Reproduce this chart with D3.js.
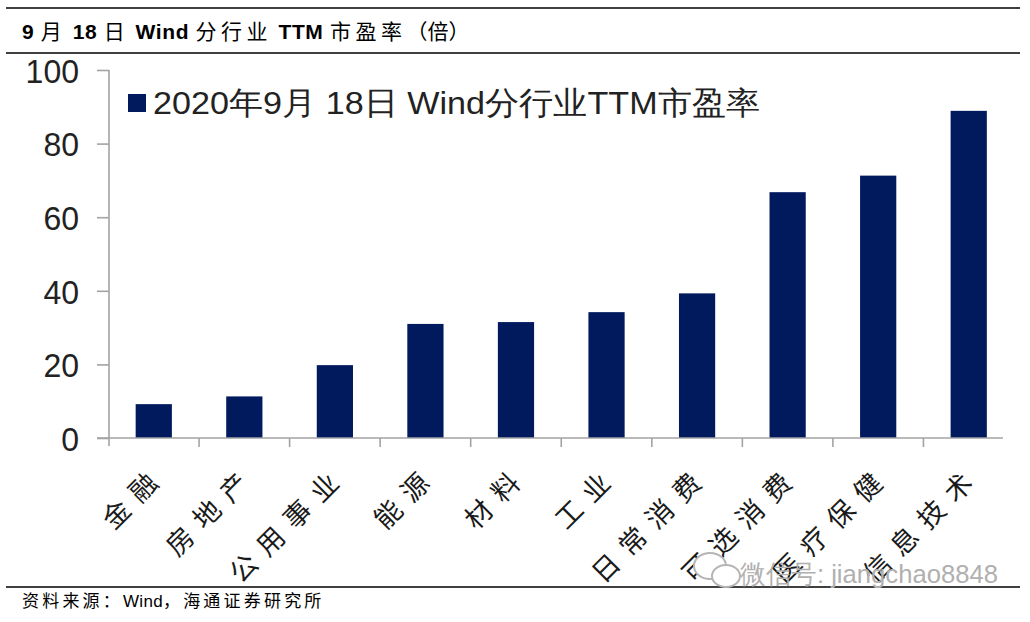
<!DOCTYPE html>
<html><head><meta charset="utf-8">
<script src="https://cdn.jsdelivr.net/npm/d3@7"></script>
<style>
html,body{margin:0;padding:0;background:#fff;}
svg{display:block;}
</style></head>
<body>
<svg id="c" width="1030" height="622"></svg>
<script>
const categories = ["金融","房地产","公用事业","能源","材料","工业","日常消费","可选消费","医疗保健","信息技术"];
const peValues = [9.2, 11.3, 19.8, 31.0, 31.5, 34.2, 39.3, 66.8, 71.3, 88.9];
const yTicks = [0, 20, 40, 60, 80, 100];
const titleParts = [["9 ", true], ["月", false], [" 18 ", true], ["日", false], [" Wind ", true], ["分行业", false], [" TTM ", true], ["市盈率", false], ["（倍）", false]];
const legendText = "2020年9月 18日 Wind分行业TTM市盈率";
const sourceParts = [["资料来源：", true], ["Wind", false], ["，海通证券研究所", true]];
const watermarkText = "微信号: jiangchao8848";

const svg = d3.select("#c");
const navy = "#011a5e";
const axisGrey = "#a3a3a3";
const cjk = "'Noto Sans CJK SC', sans-serif";
const latin = "'Liberation Sans', Arial, sans-serif";

// frame lines
[8, 53, 587].forEach(y => {
  svg.append("line").attr("x1", 6).attr("x2", 1020).attr("y1", y).attr("y2", y)
    .attr("stroke", "#000").attr("stroke-width", 1.6);
});

// title
const t = svg.append("text").attr("x", 22).attr("y", 39)
  .attr("font-size", 21).attr("fill", "#000");
titleParts.forEach(([s, b], i) => {
  t.append("tspan").text(s)
    .attr("font-family", b ? latin : cjk)
    .attr("font-weight", b ? "bold" : "normal")
    .attr("letter-spacing", b ? 0.6 : (i === titleParts.length - 1 ? 0 : 4.5));
});

// scales
const x = d3.scaleBand().domain(categories).range([108.5, 1014]).paddingInner(0.6).paddingOuter(0.3);
const y = d3.scaleLinear().domain([0, 100]).range([438, 70]);

// bars
svg.append("g").selectAll("rect").data(peValues).join("rect")
  .attr("x", (d, i) => x(categories[i]))
  .attr("y", d => y(d))
  .attr("width", x.bandwidth())
  .attr("height", d => y(0) - y(d))
  .attr("fill", navy);

// y axis
const yAxis = svg.append("g").attr("transform", "translate(109,0)")
  .call(d3.axisLeft(y).tickValues(yTicks).tickSize(12).tickSizeOuter(0).tickPadding(18));
yAxis.select(".domain").attr("stroke", axisGrey).attr("stroke-width", 1.6).attr("d", "M0,70V446");
yAxis.selectAll(".tick line").attr("stroke", axisGrey).attr("stroke-width", 1.6);
yAxis.selectAll(".tick text")
  .attr("font-family", latin).attr("font-size", 34).attr("fill", "#222")
  .attr("dy", "0.36em")
  .attr("textLength", d => String(d).length * 17.8)
  .attr("lengthAdjust", "spacingAndGlyphs");

// x axis line and ticks
const step = x.step();
svg.append("line").attr("x1", 97).attr("x2", 1003).attr("y1", y(0)).attr("y2", y(0))
  .attr("stroke", axisGrey).attr("stroke-width", 1.6);
svg.append("g").selectAll("line").data(categories.slice(1)).join("line")
  .attr("x1", d => x(d) - x.paddingInner() * step / 2)
  .attr("x2", d => x(d) - x.paddingInner() * step / 2)
  .attr("y1", y(0)).attr("y2", y(0) + 9)
  .attr("stroke", axisGrey).attr("stroke-width", 1.6);

// category labels (rotated, wide character pitch)
const pitch = 38;
const lab = svg.append("g").selectAll("g").data(categories).join("g")
  .attr("transform", d => `translate(${x(d) + x.bandwidth() / 2 - 10.5},487.5) rotate(-45)`);
lab.selectAll("text").data(d => Array.from(d).map((c, k, arr) => ({c, j: arr.length - 1 - k})))
  .join("text")
  .attr("x", e => -e.j * pitch)
  .attr("y", 0).attr("dy", "0.36em")
  .attr("text-anchor", "middle")
  .attr("font-family", cjk).attr("font-size", 27).attr("fill", "#1a1a1a")
  .text(e => e.c);

// legend
svg.append("rect").attr("x", 128).attr("y", 94).attr("width", 18).attr("height", 18).attr("fill", navy);
svg.append("text").attr("x", 153).attr("y", 114)
  .attr("font-family", latin).attr("font-size", 32).attr("fill", "#222")
  .attr("textLength", 607).attr("lengthAdjust", "spacingAndGlyphs")
  .text(legendText);

// watermark
const wm = svg.append("g").attr("fill", "none").attr("stroke", "#b5b5b5").attr("stroke-width", 2);
wm.append("ellipse").attr("cx", 710).attr("cy", 566).attr("rx", 16).attr("ry", 13).attr("fill", "#fff");
wm.append("ellipse").attr("cx", 726).attr("cy", 576).attr("rx", 14).attr("ry", 11).attr("fill", "#fff");
svg.append("text").attr("x", 740).attr("y", 583)
  .attr("font-family", latin).attr("font-size", 26).attr("fill", "#b0b0b0")
  .attr("textLength", 258).attr("lengthAdjust", "spacingAndGlyphs")
  .text(watermarkText);

// source
const st = svg.append("text").attr("x", 22).attr("y", 607)
  .attr("font-size", 17).attr("fill", "#000");
sourceParts.forEach(([s, c]) => {
  st.append("tspan").text(s)
    .attr("font-family", c ? cjk : latin)
    .attr("letter-spacing", c ? 3.2 : 0.3);
});
</script>
</body></html>
